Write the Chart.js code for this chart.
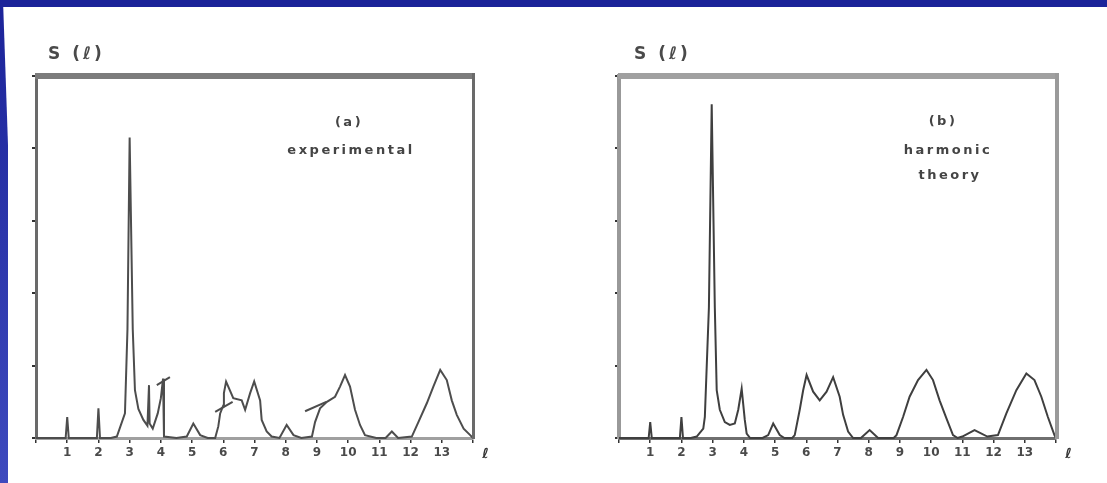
<!DOCTYPE html>
<html>
<head>
<meta charset="utf-8">
<title>S(ℓ)</title>
<script src="https://cdn.jsdelivr.net/npm/chart.js@4.4.1/dist/chart.umd.min.js"></script>
<style>
    body { margin: 0; background: #fff; }
    .page { position: relative; width: 1107px; height: 483px; overflow: hidden; background: #fff; }
    .band-top { position: absolute; left: 0; top: 0; width: 1107px; height: 7px; background: #1b2399; }
    .band-left {
        position: absolute; left: 0; top: 0; width: 8px; height: 483px;
        background: linear-gradient(#1b2399, #3e4abe);
        clip-path: polygon(0 0, 3px 0, 8px 30%, 8px 100%, 0 100%);
    }
    .panel { position: absolute; top: 0; }
    .label {
        position: absolute; font-family: "DejaVu Sans", sans-serif; color: #3a3a3a;
        white-space: nowrap; line-height: 16px; transform: translateX(-50%);
    }
    .title { font-size: 17px; font-weight: bold; line-height: 22px; letter-spacing: 3px; color: #4a4a4a; transform: none; }
    .note { font-size: 13px; font-weight: bold; letter-spacing: 2.5px; color: #444; }
</style>
</head>
<body>
<div class="page">
    <div class="band-top"></div>
    <div class="band-left"></div>

    <div class="panel" style="left:0"><canvas id="expChart" width="553" height="483"></canvas></div>
    <div class="panel" style="left:553px"><canvas id="harmChart" width="554" height="483"></canvas></div>

    <div class="label title" style="left:48px; top:42px">S (ℓ)</div>
    <div class="label note" style="left:349px; top:114px">(a)</div>
    <div class="label note" style="left:351px; top:142px">experimental</div>

    <div class="label title" style="left:634px; top:42px">S (ℓ)</div>
    <div class="label note" style="left:943px; top:113px">(b)</div>
    <div class="label note" style="left:948px; top:142px">harmonic</div>
    <div class="label note" style="left:950px; top:167px">theory</div>
</div>

<script>
const tickLabels = ['1', '2', '3', '4', '5', '6', '7', '8', '9', '10', '11', '12', '13'];

// (a) experimental S(l)
const expL = [0, 0.95, 1.0, 1.05, 1.95, 2.0, 2.05, 2.4, 2.59, 2.85, 2.93, 3.0, 3.1, 3.17, 3.28,
    3.44, 3.57, 3.62, 3.64, 3.74, 3.9, 4.0, 4.07, 4.1, 4.5, 4.83, 5.04, 5.26, 5.5, 5.74,
    5.84, 5.9, 6.0, 6.02, 6.09, 6.32, 6.59, 6.7, 6.86, 6.99, 7.18, 7.23, 7.39, 7.55, 7.8,
    8.03, 8.25, 8.5, 8.84, 8.94, 9.1, 9.32, 9.58, 9.74, 9.9, 10.06, 10.22, 10.38, 10.54, 10.9,
    11.2, 11.4, 11.6, 12.04, 12.25, 12.52, 12.73, 12.95, 13.16, 13.32, 13.48, 13.7, 13.91, 14];
const expS = [0, 0, 0.29, 0, 0, 0.41, 0, 0, 0.02, 0.34, 1.5, 4.15, 1.5, 0.66, 0.4,
    0.25, 0.17, 0.73, 0.2, 0.13, 0.34, 0.55, 0.82, 0.02, 0, 0.02, 0.2, 0.04, 0, 0,
    0.16, 0.34, 0.45, 0.62, 0.78, 0.55, 0.52, 0.39, 0.62, 0.78, 0.52, 0.25, 0.09, 0.02, 0,
    0.18, 0.04, 0, 0.02, 0.22, 0.41, 0.5, 0.57, 0.71, 0.87, 0.71, 0.39, 0.18, 0.04, 0,
    0, 0.09, 0, 0.02, 0.22, 0.48, 0.71, 0.94, 0.8, 0.52, 0.32, 0.13, 0.04, 0];

// pen strokes drawn over the experimental trace
const markL = [[3.87, 4.29], [5.74, 6.3], [8.62, 9.3]];
const markS = [[0.73, 0.84], [0.36, 0.5], [0.37, 0.5]];

// (b) harmonic theory S(l)
const harmL = [0, 0.95, 1.0, 1.05, 1.95, 2.0, 2.05, 2.3, 2.49, 2.7, 2.75, 2.88, 2.97, 3.07, 3.13,
    3.23, 3.39, 3.55, 3.71, 3.82, 3.93, 4.03, 4.09, 4.2, 4.6, 4.78, 4.94, 5.15, 5.3, 5.55,
    5.63, 5.79, 5.9, 6.01, 6.22, 6.43, 6.65, 6.86, 7.07, 7.18, 7.34, 7.5, 7.75, 8.03, 8.3,
    8.8, 8.89, 9.1, 9.31, 9.58, 9.85, 10.06, 10.27, 10.49, 10.7, 10.85, 11.0, 11.39, 11.8, 12.14,
    12.41, 12.73, 13.05, 13.31, 13.53, 13.74, 13.95, 14];
const harmS = [0, 0, 0.22, 0, 0, 0.29, 0, 0, 0.02, 0.13, 0.29, 1.8, 4.61, 1.8, 0.66,
    0.39, 0.22, 0.18, 0.2, 0.39, 0.68, 0.25, 0.06, 0, 0, 0.04, 0.2, 0.04, 0, 0,
    0.04, 0.39, 0.66, 0.87, 0.64, 0.52, 0.64, 0.84, 0.57, 0.32, 0.09, 0, 0, 0.11, 0,
    0, 0.04, 0.29, 0.57, 0.8, 0.94, 0.8, 0.52, 0.27, 0.04, 0, 0.02, 0.11, 0.02, 0.04,
    0.34, 0.66, 0.89, 0.8, 0.57, 0.29, 0.04, 0];

const framePlugin = {
    id: 'frame',
    afterDatasetsDraw(chart, args, opts) {
        const { ctx, chartArea: a, scales } = chart;
        ctx.save();
        // heavy top rule and right side of the box
        ctx.fillStyle = opts.topColor;
        ctx.fillRect(a.left - 1, a.top - 3, a.right - a.left + opts.sideWidth, 6);
        ctx.fillStyle = opts.sideColor;
        ctx.fillRect(a.right - 1, a.top - 3, opts.sideWidth, a.bottom - a.top + 4);
        // axis symbol past the last tick
        ctx.fillStyle = '#333';
        ctx.font = 'bold 14px "DejaVu Sans"';
        ctx.textAlign = 'center';
        ctx.textBaseline = 'middle';
        ctx.fillText('ℓ', scales.x.getPixelForValue(14.4), a.bottom + 16);
        ctx.restore();
    }
};

function toPoints(ls, ss) {
    return ls.map((l, i) => ({ x: l, y: ss[i] }));
}

function createPanel(canvasId, ls, ss, strokesL, strokesS, look) {
    const lineStyle = {
        showLine: true,
        pointRadius: 0,
        borderColor: look.lineColor,
        borderWidth: 2,
        tension: 0,
        clip: 6
    };
    const datasets = [Object.assign({ data: toPoints(ls, ss) }, lineStyle)];
    strokesL.forEach((sl, i) => {
        datasets.push(Object.assign({ data: toPoints(sl, strokesS[i]) }, lineStyle));
    });

    return new Chart(document.getElementById(canvasId), {
        type: 'scatter',
        data: { datasets },
        plugins: [framePlugin],
        options: {
            responsive: false,
            animation: false,
            devicePixelRatio: 1,
            layout: { padding: { left: look.padLeft, right: look.padRight, top: 76, bottom: 15 } },
            plugins: {
                legend: { display: false },
                tooltip: { enabled: false },
                frame: { topColor: look.topColor, sideColor: look.sideColor, sideWidth: look.sideWidth }
            },
            scales: {
                x: {
                    type: 'linear',
                    min: 0,
                    max: 14,
                    afterFit: (s) => { s.height = 30; },
                    ticks: {
                        stepSize: 1,
                        autoSkip: false,
                        maxRotation: 0,
                        padding: 3,
                        color: '#4a4a4a',
                        font: { family: 'DejaVu Sans', size: 12, weight: 'bold' },
                        callback: (v) => tickLabels[v - 1] || ''
                    },
                    grid: { drawOnChartArea: false, tickLength: 5, color: '#333', lineWidth: 1.5 },
                    border: { color: look.baseColor, width: 3 }
                },
                y: {
                    type: 'linear',
                    min: 0,
                    max: 5,
                    afterFit: (s) => { s.width = 6; },
                    ticks: { display: false, stepSize: 1 },
                    grid: { drawOnChartArea: false, tickLength: 4, color: '#333', lineWidth: 2 },
                    border: { color: look.leftColor, width: look.leftWidth }
                }
            }
        }
    });
}

window.onload = () => {
    createPanel('expChart', expL, expS, markL, markS, {
        padLeft: 30, padRight: 80,
        lineColor: '#4d4d4d', baseColor: '#a0a0a0',
        leftColor: '#6a6a6a', leftWidth: 3,
        topColor: '#7c7c7c', sideColor: '#6a6a6a', sideWidth: 3
    });
    createPanel('harmChart', harmL, harmS, [], [], {
        padLeft: 60, padRight: 51,
        lineColor: '#3f3f3f', baseColor: '#6f6f6f',
        leftColor: '#999', leftWidth: 4,
        topColor: '#a0a0a0', sideColor: '#9a9a9a', sideWidth: 4
    });
};
</script>
</body>
</html>
